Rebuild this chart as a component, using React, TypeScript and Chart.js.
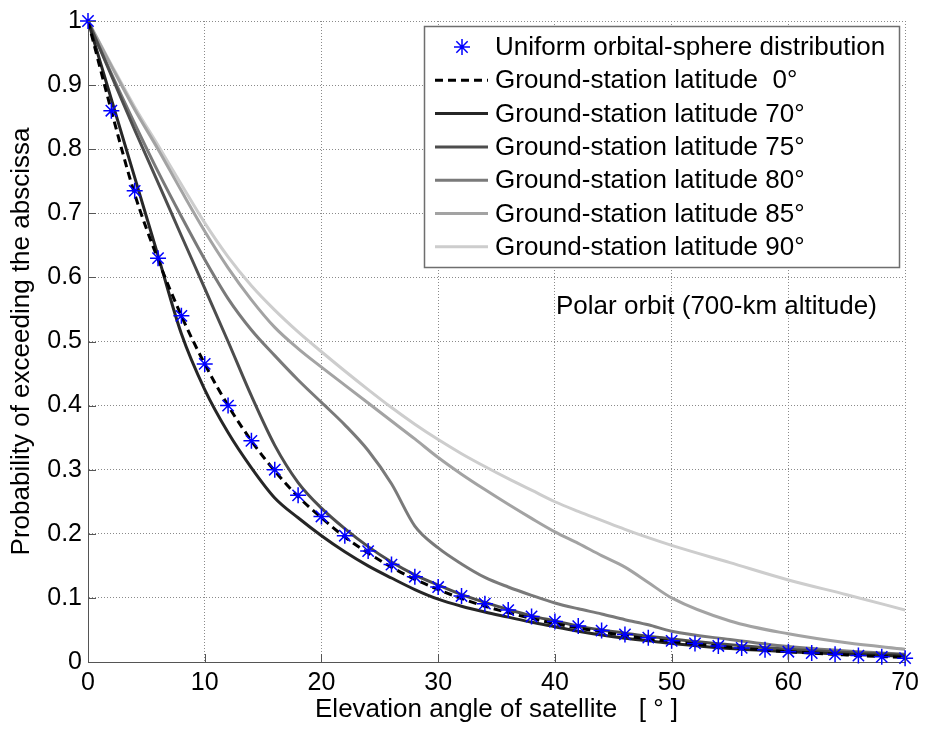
import React, { useEffect, useRef } from "react";
import { Chart, registerables } from "chart.js";

Chart.register(...registerables);

// ---- data ----
const starAngles = [0, 2, 4, 6, 8, 10, 12, 14, 16, 18, 20, 22, 24, 26, 28, 30, 32, 34, 36, 38, 40, 42, 44, 46, 48, 50, 52, 54, 56, 58, 60, 62, 64, 66, 68, 70];
const starProb = [1.0, 0.86, 0.735, 0.63, 0.54, 0.465, 0.4, 0.345, 0.3, 0.26, 0.227, 0.197, 0.173, 0.152, 0.133, 0.117, 0.103, 0.091, 0.081, 0.071, 0.063, 0.056, 0.049, 0.043, 0.038, 0.033, 0.029, 0.025, 0.022, 0.019, 0.016, 0.014, 0.012, 0.01, 0.008, 0.006];

const curveAngles = [0, 2, 4, 6, 8, 10, 12, 14, 16, 18, 20, 22, 24, 26, 28, 30, 32, 34, 36, 38, 40, 42, 44, 46, 48, 50, 55, 60, 65, 70];
const lat0 = [1, 0.86, 0.73, 0.628, 0.54, 0.465, 0.4, 0.345, 0.298, 0.258, 0.225, 0.195, 0.17, 0.148, 0.129, 0.113, 0.099, 0.087, 0.077, 0.068, 0.06, 0.053, 0.047, 0.041, 0.036, 0.032, 0.023, 0.016, 0.011, 0.007];
const lat70 = [1, 0.878, 0.756, 0.634, 0.512, 0.425, 0.358, 0.303, 0.256, 0.225, 0.197, 0.172, 0.15, 0.131, 0.113, 0.098, 0.087, 0.078, 0.07, 0.062, 0.055, 0.048, 0.042, 0.037, 0.033, 0.029, 0.021, 0.016, 0.012, 0.009];
const lat75 = [1, 0.915, 0.83, 0.748, 0.665, 0.583, 0.5, 0.415, 0.338, 0.28, 0.24, 0.208, 0.18, 0.156, 0.136, 0.12, 0.105, 0.093, 0.082, 0.072, 0.064, 0.056, 0.05, 0.045, 0.04, 0.036, 0.027, 0.02, 0.015, 0.011];
const lat80 = [1, 0.918, 0.84, 0.765, 0.695, 0.628, 0.567, 0.518, 0.478, 0.44, 0.405, 0.37, 0.33, 0.278, 0.212, 0.178, 0.153, 0.132, 0.117, 0.104, 0.092, 0.083, 0.075, 0.066, 0.058, 0.048, 0.035, 0.024, 0.017, 0.012];
const lat85 = [1, 0.93, 0.862, 0.8, 0.735, 0.672, 0.615, 0.565, 0.522, 0.489, 0.46, 0.432, 0.404, 0.376, 0.348, 0.319, 0.293, 0.269, 0.246, 0.224, 0.203, 0.185, 0.166, 0.148, 0.124, 0.1, 0.064, 0.044, 0.03, 0.02];
const lat90 = [1, 0.932, 0.866, 0.806, 0.745, 0.685, 0.632, 0.587, 0.549, 0.515, 0.484, 0.454, 0.425, 0.397, 0.371, 0.347, 0.325, 0.305, 0.286, 0.268, 0.25, 0.235, 0.221, 0.207, 0.194, 0.182, 0.155, 0.128, 0.105, 0.081];

const xTicks = [0, 10, 20, 30, 40, 50, 60, 70];
const yTicks = [0, 0.1, 0.2, 0.3, 0.4, 0.5, 0.6, 0.7, 0.8, 0.9, 1];

const legendLabels = [
  "Uniform orbital-sphere distribution",
  "Ground-station latitude  0°",
  "Ground-station latitude 70°",
  "Ground-station latitude 75°",
  "Ground-station latitude 80°",
  "Ground-station latitude 85°",
  "Ground-station latitude 90°",
];
const noteText = "Polar orbit (700-km altitude)";
const xTitle = "Elevation angle of satellite   [ ° ]";
const yTitle = "Probability of exceeding the abscissa";

const FONT = "'Liberation Sans', Arial, Helvetica, sans-serif";
const lineColors = ["#000000", "#262626", "#4d4d4d", "#7a7a7a", "#a3a3a3", "#cdcdcd"];

const toPts = (xs: number[], ys: number[]) => xs.map((x, i) => ({ x, y: ys[i] }));

const overlayPlugin = {
  id: "overlay",
  afterDraw(chart: any) {
    const ctx = chart.ctx as CanvasRenderingContext2D;
    const xs = chart.scales.x;
    const ys = chart.scales.y;
    const area = chart.chartArea;
    // inner tick marks
    ctx.save();
    ctx.strokeStyle = "#555";
    ctx.lineWidth = 1;
    ctx.beginPath();
    for (const v of yTicks) {
      const py = Math.round(ys.getPixelForValue(v)) + 0.5;
      ctx.moveTo(area.left, py);
      ctx.lineTo(area.left + 8, py);
    }
    for (const v of xTicks) {
      const px = Math.round(xs.getPixelForValue(v)) + 0.5;
      ctx.moveTo(px, area.bottom);
      ctx.lineTo(px, area.bottom - 8);
    }
    ctx.stroke();
    ctx.restore();

    // annotation text
    ctx.save();
    ctx.fillStyle = "#000";
    ctx.font = `26px ${FONT}`;
    ctx.textBaseline = "middle";
    ctx.textAlign = "left";
    ctx.fillText(noteText, 556, 307);
    ctx.restore();

    // legend
    const bx = 424.5, by = 26.5, bw = 475, bh = 241;
    ctx.save();
    ctx.fillStyle = "#fff";
    ctx.fillRect(bx, by, bw, bh);
    ctx.strokeStyle = "#6e6e6e";
    ctx.lineWidth = 1.5;
    ctx.strokeRect(bx, by, bw, bh);
    ctx.font = `26px ${FONT}`;
    ctx.textBaseline = "middle";
    ctx.textAlign = "left";
    chart.data.datasets.forEach((ds: any, i: number) => {
      const y = 47 + i * 33.3;
      if (i === 0) {
        ctx.save();
        ctx.strokeStyle = ds.pointBorderColor;
        ctx.lineWidth = ds.pointBorderWidth;
        const r = ds.pointRadius;
        ctx.beginPath();
        for (let k = 0; k < 4; k++) {
          const a = (k * Math.PI) / 4;
          ctx.moveTo(462 - Math.cos(a) * r, y - Math.sin(a) * r);
          ctx.lineTo(462 + Math.cos(a) * r, y + Math.sin(a) * r);
        }
        ctx.stroke();
        ctx.restore();
      } else {
        ctx.save();
        ctx.strokeStyle = ds.borderColor;
        ctx.lineWidth = ds.borderWidth;
        ctx.setLineDash(ds.borderDash || []);
        ctx.beginPath();
        ctx.moveTo(435, y);
        ctx.lineTo(488, y);
        ctx.stroke();
        ctx.restore();
      }
      ctx.fillStyle = "#000";
      ctx.fillText(legendLabels[i], 495, y + 1);
    });
    ctx.restore();
  },
};

export default function App() {
  const canvasRef = useRef<HTMLCanvasElement | null>(null);

  useEffect(() => {
    if (!canvasRef.current) return;
    const lineSet = (label: string, ys: number[], color: string, dash: number[] = []) => ({
      label,
      data: toPts(curveAngles, ys),
      borderColor: color,
      backgroundColor: color,
      borderWidth: 3,
      borderDash: dash,
      pointRadius: 0,
      fill: false,
      showLine: true,
      cubicInterpolationMode: "monotone" as const,
    });
    const chart = new Chart(canvasRef.current, {
      type: "scatter",
      data: {
        datasets: [
          {
            label: legendLabels[0],
            data: toPts(starAngles, starProb),
            showLine: false,
            pointStyle: "star",
            pointRadius: 8,
            pointBorderColor: "#0000ff",
            pointBackgroundColor: "#0000ff",
            pointBorderWidth: 1.5,
            clip: false,
          } as any,
          lineSet(legendLabels[1], lat0, lineColors[0], [8, 5]),
          lineSet(legendLabels[2], lat70, lineColors[1]),
          lineSet(legendLabels[3], lat75, lineColors[2]),
          lineSet(legendLabels[4], lat80, lineColors[3]),
          lineSet(legendLabels[5], lat85, lineColors[4]),
          lineSet(legendLabels[6], lat90, lineColors[5]),
        ],
      },
      options: {
        animation: false,
        responsive: false,
        maintainAspectRatio: false,
        devicePixelRatio: 1,
        layout: { padding: { left: 0, right: 17, top: 15, bottom: 0 } },
        plugins: {
          legend: { display: false },
          tooltip: { enabled: false },
          title: { display: false },
        },
        scales: {
          x: {
            type: "linear",
            min: 0,
            max: 70,
            afterBuildTicks: (s: any) => {
              s.ticks = xTicks.map((v) => ({ value: v }));
            },
            afterFit: (s: any) => {
              s.height = 68;
            },
            grid: { color: "#8a8a8a", lineWidth: 1, drawTicks: false },
            border: { display: true, color: "#555", width: 1, dash: [1, 2] },
            ticks: {
              color: "#000",
              padding: 6,
              maxRotation: 0,
              autoSkip: false,
              font: { family: FONT, size: 25 },
              callback: (v: any) => String(v),
            },
            title: {
              display: true,
              text: xTitle,
              color: "#000",
              font: { family: FONT, size: 26 },
              padding: { top: 0, bottom: 5 },
            },
          },
          y: {
            type: "linear",
            min: 0,
            max: 1,
            afterBuildTicks: (s: any) => {
              s.ticks = yTicks.map((v) => ({ value: v }));
            },
            afterFit: (s: any) => {
              s.width = 88;
            },
            grid: { color: "#8a8a8a", lineWidth: 1, drawTicks: false },
            border: { display: true, color: "#555", width: 1, dash: [1, 2] },
            ticks: {
              color: "#000",
              padding: 6,
              autoSkip: false,
              font: { family: FONT, size: 25 },
              callback: (v: any) => String(Math.round(Number(v) * 10) / 10),
            },
            title: {
              display: true,
              text: yTitle,
              color: "#000",
              font: { family: FONT, size: 26 },
              padding: { top: 6, bottom: 0 },
            },
          },
        },
      },
      plugins: [overlayPlugin],
    });
    return () => chart.destroy();
  }, []);

  return (
    <div style={{ position: "absolute", left: 0, top: 0, width: 925, height: 730, background: "#fff" }}>
      <canvas ref={canvasRef} width={925} height={730} style={{ display: "block", width: 925, height: 730 }} />
    </div>
  );
}
